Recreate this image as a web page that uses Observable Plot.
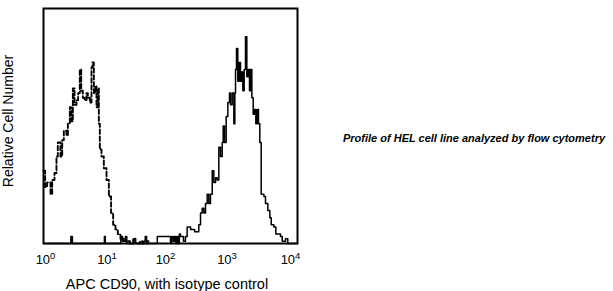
<!DOCTYPE html>
<html>
<head>
<meta charset="utf-8">
<script src="https://cdn.jsdelivr.net/npm/d3@7"></script>
<script src="https://cdn.jsdelivr.net/npm/@observablehq/plot@0.6"></script>
<style>
  html, body { margin: 0; padding: 0; background: #fff; }
  body { width: 613px; height: 291px; position: relative; overflow: hidden; font-family: "Liberation Sans", Arial, sans-serif; }
  #chart { position: absolute; left: 0; top: 0; }
  #caption { position: absolute; left: 343px; top: 132px; font: italic bold 11px "Liberation Sans", Arial, sans-serif; color: #000; white-space: nowrap; }
</style>
</head>
<body>
<div id="chart"></div>
<div id="caption"></div>
<script>
// ---- data ----
const captionText = "Profile of HEL cell line analyzed by flow cytometry";
const xLabel = "APC CD90, with isotype control";
const yLabel = "Relative Cell Number";
const tickValues = [1, 10, 100, 1000, 10000];
const tickExponents = ["0", "1", "2", "3", "4"];

// isotype control (dashed) : fluorescence intensity, relative count
const isoX = [1.0, 1.06, 1.14, 1.29, 1.37, 1.49, 1.60, 1.68, 1.85, 1.97, 2.09, 2.30, 2.42, 2.60, 2.73, 2.90, 3.08, 3.31, 3.51, 3.73, 3.92, 4.16, 4.42, 4.75, 4.99, 5.37, 5.70, 5.91, 6.21, 6.59, 6.83, 7.17, 7.44, 7.71, 8.19, 8.91, 9.82, 10.7, 11.6, 12.5, 13.6, 14.8, 16.3, 18.4, 20.8, 23, 26, 28, 33, 36, 42, 45];
const isoY = [31, 24, 26, 21, 27, 30, 37, 43, 37, 44, 48, 46, 51, 58, 52, 66, 59, 61, 64, 74, 65, 62, 61, 64, 62, 60, 75, 77, 64, 67, 58, 66, 51, 40, 37, 32, 27, 20, 13, 8, 6, 4, 2, 1, 1, 0, 2, 0, 1, 0, 1, 0];

// APC CD90 (solid)
const cdX = [1, 2.6, 2.7, 2.85, 8.9, 9.1, 9.4, 16, 16.5, 17.5, 19.5, 20.5, 26, 28, 38, 40, 42, 60, 62, 98, 100, 104, 110, 116, 122, 128, 133, 138, 143.6, 160, 172, 183, 207, 240, 279, 297, 316, 335, 356, 378, 401, 426, 454, 481, 512, 543, 577, 613, 652, 676, 708, 753, 800, 849, 881, 936, 994, 1031, 1057, 1095, 1148, 1207, 1265, 1312, 1377, 1446, 1517, 1592, 1675, 1754, 1820, 1910, 2006, 2103, 2207, 2316, 2430, 2549, 2681, 2951, 3133, 3412, 3667, 3856, 4241, 4557, 5400, 5746, 6477, 7033, 10000];
const cdY = [0, 0, 3, 0, 0, 3, 0, 0, 3, 1, 3, 0, 2, 0, 1, 3, 0, 0, 3, 3, 0, 3, 1, 3, 0, 3, 0, 4, 3, 1, 3, 7, 6, 5, 8, 13, 15, 13, 17, 21, 17, 21, 31, 26, 28, 27, 41, 37, 43, 50, 43, 54, 60, 64, 59, 64, 51, 64, 74, 83, 69, 77, 69, 73, 65, 74, 88, 71, 74, 65, 74, 62, 55, 57, 51, 57, 51, 43, 21, 20, 17, 14, 11, 8, 7, 4, 3, 1, 2, 0, 0];

const iso = isoX.map((x, i) => ({x, y: isoY[i]}));
const cd = cdX.map((x, i) => ({x, y: cdY[i]}));

const chart = Plot.plot({
  width: 310,
  height: 291,
  marginLeft: 43,
  marginRight: 13,
  marginTop: 8,
  marginBottom: 48,
  style: {fontFamily: "'Liberation Sans', Arial, sans-serif", fontSize: "14px", color: "#000", background: "#fff"},
  x: {type: "log", domain: [1, 10000]},
  y: {domain: [0, 100]},
  marks: [
    Plot.axisX({ticks: tickValues, tickSize: 0, tickPadding: 11,
      tickFormat: d => "10^" + tickExponents[tickValues.indexOf(d)],
      label: xLabel, labelAnchor: "center", labelArrow: "none"}),
    Plot.axisY({ticks: [], label: yLabel, labelAnchor: "center", labelArrow: "none"}),
    Plot.line(cd, {x: "x", y: "y", curve: "step-after", stroke: "#000", strokeWidth: 1.5}),
    Plot.line(iso, {x: "x", y: "y", curve: "step-after", stroke: "#000", strokeWidth: 1.9, strokeDasharray: "4.5,2.5"}),
    Plot.frame({stroke: "#000", strokeWidth: 2})
  ]
});

// superscript exponents on tick labels
const svgns = "http://www.w3.org/2000/svg";
const labels = chart.querySelectorAll('g[aria-label="x-axis tick label"] text');
const shifts = [2, 0, -5, -7, -7];
labels.forEach((t, i) => {
  const parts = t.textContent.split("^");
  if (parts.length === 2) {
    t.textContent = parts[0];
    const ts = document.createElementNS(svgns, "tspan");
    ts.setAttribute("dy", "-0.5em");
    ts.setAttribute("font-size", "9.5px");
    ts.textContent = parts[1];
    t.appendChild(ts);
  }
  t.setAttribute("font-size", "13px");
  t.setAttribute("dx", shifts[i]);
});
const xl = chart.querySelector('g[aria-label="x-axis label"] text');
if (xl) { xl.setAttribute("dx", "-3.5"); xl.setAttribute("font-size", "14.5px"); }
const yl = chart.querySelector('g[aria-label="y-axis label"] text');
if (yl) yl.setAttribute("dx", "5");

document.getElementById("chart").appendChild(chart);
document.getElementById("caption").textContent = captionText;
</script>
</body>
</html>
